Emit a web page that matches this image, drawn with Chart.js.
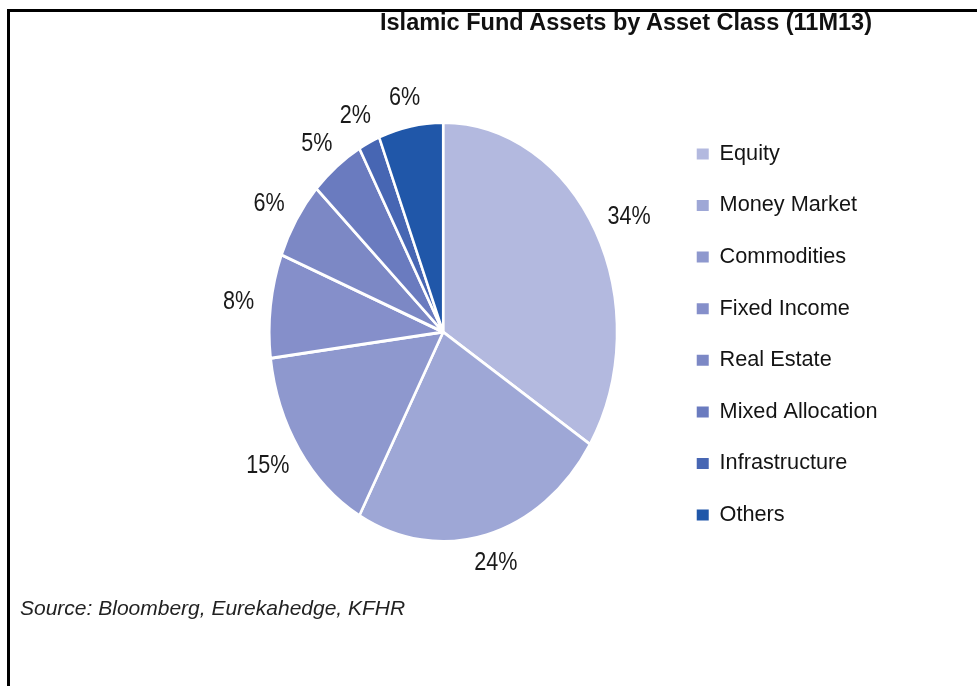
<!DOCTYPE html>
<html>
<head>
<meta charset="utf-8">
<script src="https://cdn.jsdelivr.net/npm/chart.js@4/dist/chart.umd.min.js"></script>
<style>
  html, body { margin: 0; padding: 0; background: #fff; }
  body { width: 977px; height: 686px; position: relative; overflow: hidden; font-family: "Liberation Sans", Arial, sans-serif; }
  #frame { position: absolute; left: 7px; top: 9px; width: 1000px; height: 700px; border-top: 3px solid #000; border-left: 3px solid #000; z-index: 2; }
  #title { position: absolute; left: 380px; top: 11px; font-size: 23.5px; line-height: 23px; font-weight: bold; color: #111; white-space: nowrap; }
  #source { position: absolute; left: 20px; top: 597px; font-size: 21px; line-height: 21px; font-style: italic; color: #222; white-space: nowrap; }
  #chart { position: absolute; left: 0; top: 0; }
</style>
</head>
<body>
<div id="frame"></div>
<canvas id="chart" width="977" height="686"></canvas>
<div id="title">Islamic Fund Assets by Asset Class (11M13)</div>
<div id="source">Source: Bloomberg, Eurekahedge, KFHR</div>
<script>
// asset classes, clockwise from 12 o'clock
const CATEGORIES = ['Equity', 'Money Market', 'Commodities', 'Fixed Income', 'Real Estate', 'Mixed Allocation', 'Infrastructure', 'Others'];
const SHARES = [34, 24, 15, 8, 6, 5, 2, 6];
const COLORS = ['#b3b9df', '#9ea7d6', '#8e98ce', '#858fca', '#7c88c5', '#6a7bbf', '#4766b3', '#2057a9'];

const FONT = '"Liberation Sans", Arial, sans-serif';
const SQUASH = 0.83; // the source picture is squeezed sideways

// squeeze the pie into an ellipse around its centre
const squashPlugin = {
  id: 'squash',
  beforeDatasetsDraw(chart) {
    const arc = chart.getDatasetMeta(0).data[0];
    const ctx = chart.ctx;
    ctx.save();
    ctx.translate(arc.x, 0);
    ctx.scale(SQUASH, 1);
    ctx.translate(-arc.x, 0);
  },
  afterDatasetsDraw(chart) {
    chart.ctx.restore();
  }
};

// percentage labels outside each slice
const sliceLabels = {
  id: 'sliceLabels',
  afterDraw(chart) {
    const ctx = chart.ctx;
    const arcs = chart.getDatasetMeta(0).data;
    ctx.save();
    ctx.font = '26px ' + FONT;
    ctx.fillStyle = '#1a1a1a';
    ctx.textAlign = 'center';
    ctx.textBaseline = 'middle';
    arcs.forEach((arc, i) => {
      const mid = (arc.startAngle + arc.endAngle) / 2;
      const r = arc.outerRadius + 20;
      const text = SHARES[i] + '%';
      const w = ctx.measureText(text).width * SQUASH;
      const x = arc.x + (SQUASH * r + w / 2) * Math.cos(mid);
      const y = arc.y + (r + 9) * Math.sin(mid);
      ctx.save();
      ctx.translate(x, y);
      ctx.scale(SQUASH, 1);
      ctx.fillText(text, 0, 0);
      ctx.restore();
    });
    ctx.restore();
  }
};

new Chart(document.getElementById('chart').getContext('2d'), {
  type: 'pie',
  data: {
    labels: CATEGORIES,
    datasets: [{
      data: SHARES,
      backgroundColor: COLORS,
      borderColor: '#ffffff',
      borderWidth: 3,
      radius: 209.5
    }]
  },
  options: {
    responsive: false,
    animation: false,
    layout: { padding: { left: 219.5, right: 89.5, top: 40, bottom: 62 } },
    plugins: {
      tooltip: { enabled: false },
      title: { display: false },
      legend: {
        position: 'right',
        align: 'center',
        // empty title only nudges the column down a little
        title: { display: true, text: ' ', padding: 0, font: { size: 5, lineHeight: 1 } },
        labels: {
          boxWidth: 12,
          boxHeight: 11,
          padding: 29.9,
          color: '#141414',
          font: { family: FONT, size: 21.7 },
          generateLabels: chart =>
            Chart.overrides.pie.plugins.legend.labels.generateLabels(chart)
              .map(item => ({ ...item, lineWidth: 0 }))
        }
      }
    }
  },
  plugins: [squashPlugin, sliceLabels]
});
</script>
</body>
</html>
